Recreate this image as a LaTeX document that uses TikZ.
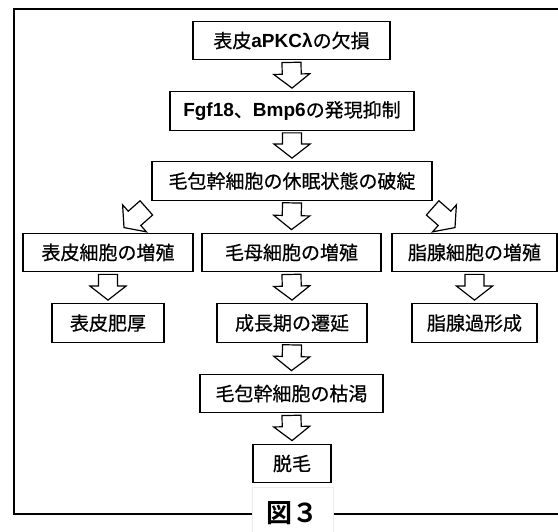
\documentclass[tikz,border=0pt]{standalone}
\usepackage{fontspec}
\newfontfamily\jpfont[FakeBold=0.6]{Noto Sans CJK JP}
\newfontfamily\jpboldfont{Noto Sans CJK JP Bold}
\newfontfamily\latfont{Liberation Sans}
\usetikzlibrary{calc}
\newcommand\lat[1]{{\latfont\bfseries #1}}
\tikzset{
  frame/.style={line width=2pt, line cap=rect},
  stepbox/.style={draw, line width=1.3pt, minimum height=38.5pt, inner sep=0pt,
    font=\jpfont\fontsize{19}{22}\selectfont},
  blockarrow/.style={draw, fill=white, line width=1.2pt, line join=miter},
  figlabel/.style={fill=white, draw=black!8, line width=0.6pt, minimum width=81pt,
    minimum height=52pt, inner sep=0pt, font=\jpboldfont\fontsize{26}{28}\selectfont},
}
% hollow block arrow from point #1 (tail) to point #2 (tip)
\newcommand\hollowarrow[2]{%
  \path let \p1=(#1), \p2=(#2) in \pgfextra{%
    \pgfmathsetmacro\harrA{atan2(\y2-\y1,\x2-\x1)}%
    \pgfmathsetmacro\harrL{veclen(\x2-\x1,\y2-\y1)}%
    \xdef\harrAngle{\harrA}\xdef\harrLength{\harrL}};
  \draw[blockarrow, shift={(#1)}, rotate=\harrAngle]
    (0pt,-9.5pt) -- ({\harrLength pt-14pt},-9.5pt) -- ({\harrLength pt-14pt},-18pt)
    -- (\harrLength pt,0pt) -- ({\harrLength pt-14pt},18pt)
    -- ({\harrLength pt-14pt},9.5pt) -- (0pt,9.5pt) -- cycle;
}
\begin{document}
\begin{tikzpicture}[x=1pt,y=-1pt]
\useasboundingbox (0,0) rectangle (558,532);
\draw[frame] (560,9) -- (13.5,9) -- (13.5,514) -- (560,514);

\node[stepbox, minimum width=197pt] (loss) at (291.5,40.5) {表皮\lat{aPKCλ}の欠損};
\node[stepbox, minimum width=244pt] (supp) at (292,111) {\lat{Fgf18}、\lat{Bmp6}の発現抑制};
\node[stepbox, minimum width=280pt] (dorm) at (292,181) {毛包幹細胞の休眠状態の破綻};

\node[stepbox, minimum width=170pt] (epi) at (108,252.5) {表皮細胞の増殖};
\node[stepbox, minimum width=179pt] (matrix) at (291.5,252.5) {毛母細胞の増殖};
\node[stepbox, minimum width=165pt] (seb) at (474.5,252.5) {脂腺細胞の増殖};

\node[stepbox, minimum width=112pt] (thick) at (108,323) {表皮肥厚};
\node[stepbox, minimum width=150pt] (anagen) at (292,323) {成長期の遷延};
\node[stepbox, minimum width=125pt] (hyper) at (474.5,323) {脂腺過形成};

\node[stepbox, minimum width=183pt] (exhaust) at (291.5,393.5) {毛包幹細胞の枯渇};
\node[stepbox, minimum width=78pt] (alopecia) at (292,463.5) {脱毛};

\node[figlabel] (fig) at (292.5,513.5) {図３};

\hollowarrow{$(loss.south)+(0,2)$}{$(supp.north)+(0,-3)$}
\hollowarrow{$(supp.south)+(0,2)$}{$(dorm.north)+(0,-3)$}
\hollowarrow{$(dorm.south)+(0,2)$}{$(matrix.north)+(0,-3)$}
\hollowarrow{$(dorm.south west)+(-5,7)$}{$(epi.north)+(16,-5)$}
\hollowarrow{$(dorm.south east)+(0,7)$}{$(seb.north)+(-19.5,-5)$}
\hollowarrow{$(epi.south)+(0,2)$}{$(thick.north)+(0,-3)$}
\hollowarrow{$(matrix.south)+(0,2)$}{$(anagen.north)+(0,-3)$}
\hollowarrow{$(seb.south)+(0,2)$}{$(hyper.north)+(0,-3)$}
\hollowarrow{$(anagen.south)+(0,2)$}{$(exhaust.north)+(0,-3)$}
\hollowarrow{$(exhaust.south)+(0,2)$}{$(alopecia.north)+(0,-3)$}
\end{tikzpicture}
\end{document}
